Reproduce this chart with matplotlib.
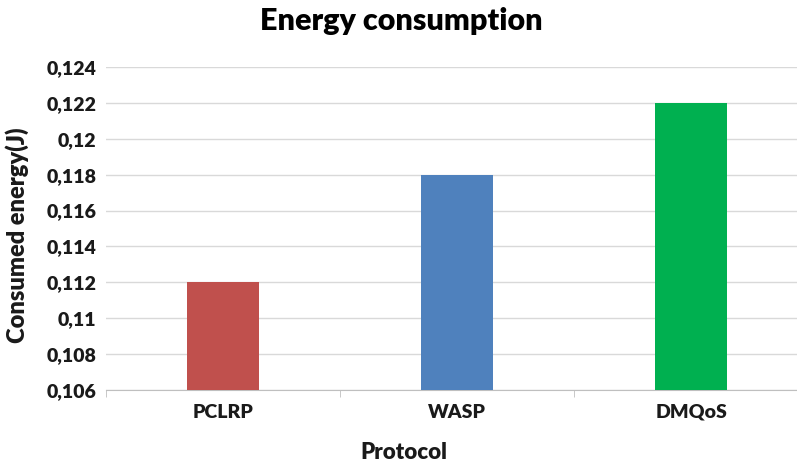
import matplotlib.pyplot as plt
from matplotlib.ticker import FuncFormatter, MultipleLocator

protocols = ['PCLRP', 'WASP', 'DMQoS']
energy = [0.112, 0.118, 0.122]
colors = ['#C0504D', '#4F81BD', '#00B050']

plt.rcParams['font.family'] = ['Lato', 'DejaVu Sans']

fig = plt.figure(figsize=(7.97, 4.68), dpi=100)
# the plot area runs past the right edge, as in the cropped original
ax = fig.add_axes([0.133, 0.1667, 0.881, 0.690])

x = list(range(len(protocols)))
base = 0.106
ax.bar(x, [v - base for v in energy], bottom=base, width=0.31, color=colors, zorder=3)

ax.set_xlim(-0.5, 2.5)
ax.set_ylim(0.106, 0.124)
ax.yaxis.set_major_locator(MultipleLocator(0.002))
ax.yaxis.set_major_formatter(FuncFormatter(lambda v, p: ('%g' % round(v, 4)).replace('.', ',')))
ax.grid(axis='y', color='#D9D9D9', linewidth=1, zorder=0)

ax.set_xticks(x)
ax.set_xticklabels(protocols)
ax.set_xticks([-0.5, 0.5, 1.5, 2.5], minor=True)
ax.tick_params(axis='x', which='major', length=0, pad=10)
ax.tick_params(axis='x', which='minor', length=5, color='#BFBFBF', direction='out')
ax.tick_params(axis='y', length=0, pad=7)
for lab in ax.get_xticklabels() + ax.get_yticklabels():
    lab.set_fontweight('heavy')
    lab.set_fontsize(14)
    lab.set_color('#1a1a1a')

for s in ['top', 'right', 'left']:
    ax.spines[s].set_visible(False)
ax.spines['bottom'].set_color('#BFBFBF')

fig.text(0.503, 0.955, 'Energy consumption', ha='center', va='center',
         fontsize=22, fontweight='heavy')
fig.text(0.507, 0.034, 'Protocol', ha='center', va='center',
         fontsize=16, fontweight='heavy', color='#1a1a1a')
fig.text(0.022, 0.498, 'Consumed energy(J)', ha='center', va='center',
         rotation=90, fontsize=17, fontweight='heavy', color='#1a1a1a')

plt.savefig('out.png', dpi=100)
